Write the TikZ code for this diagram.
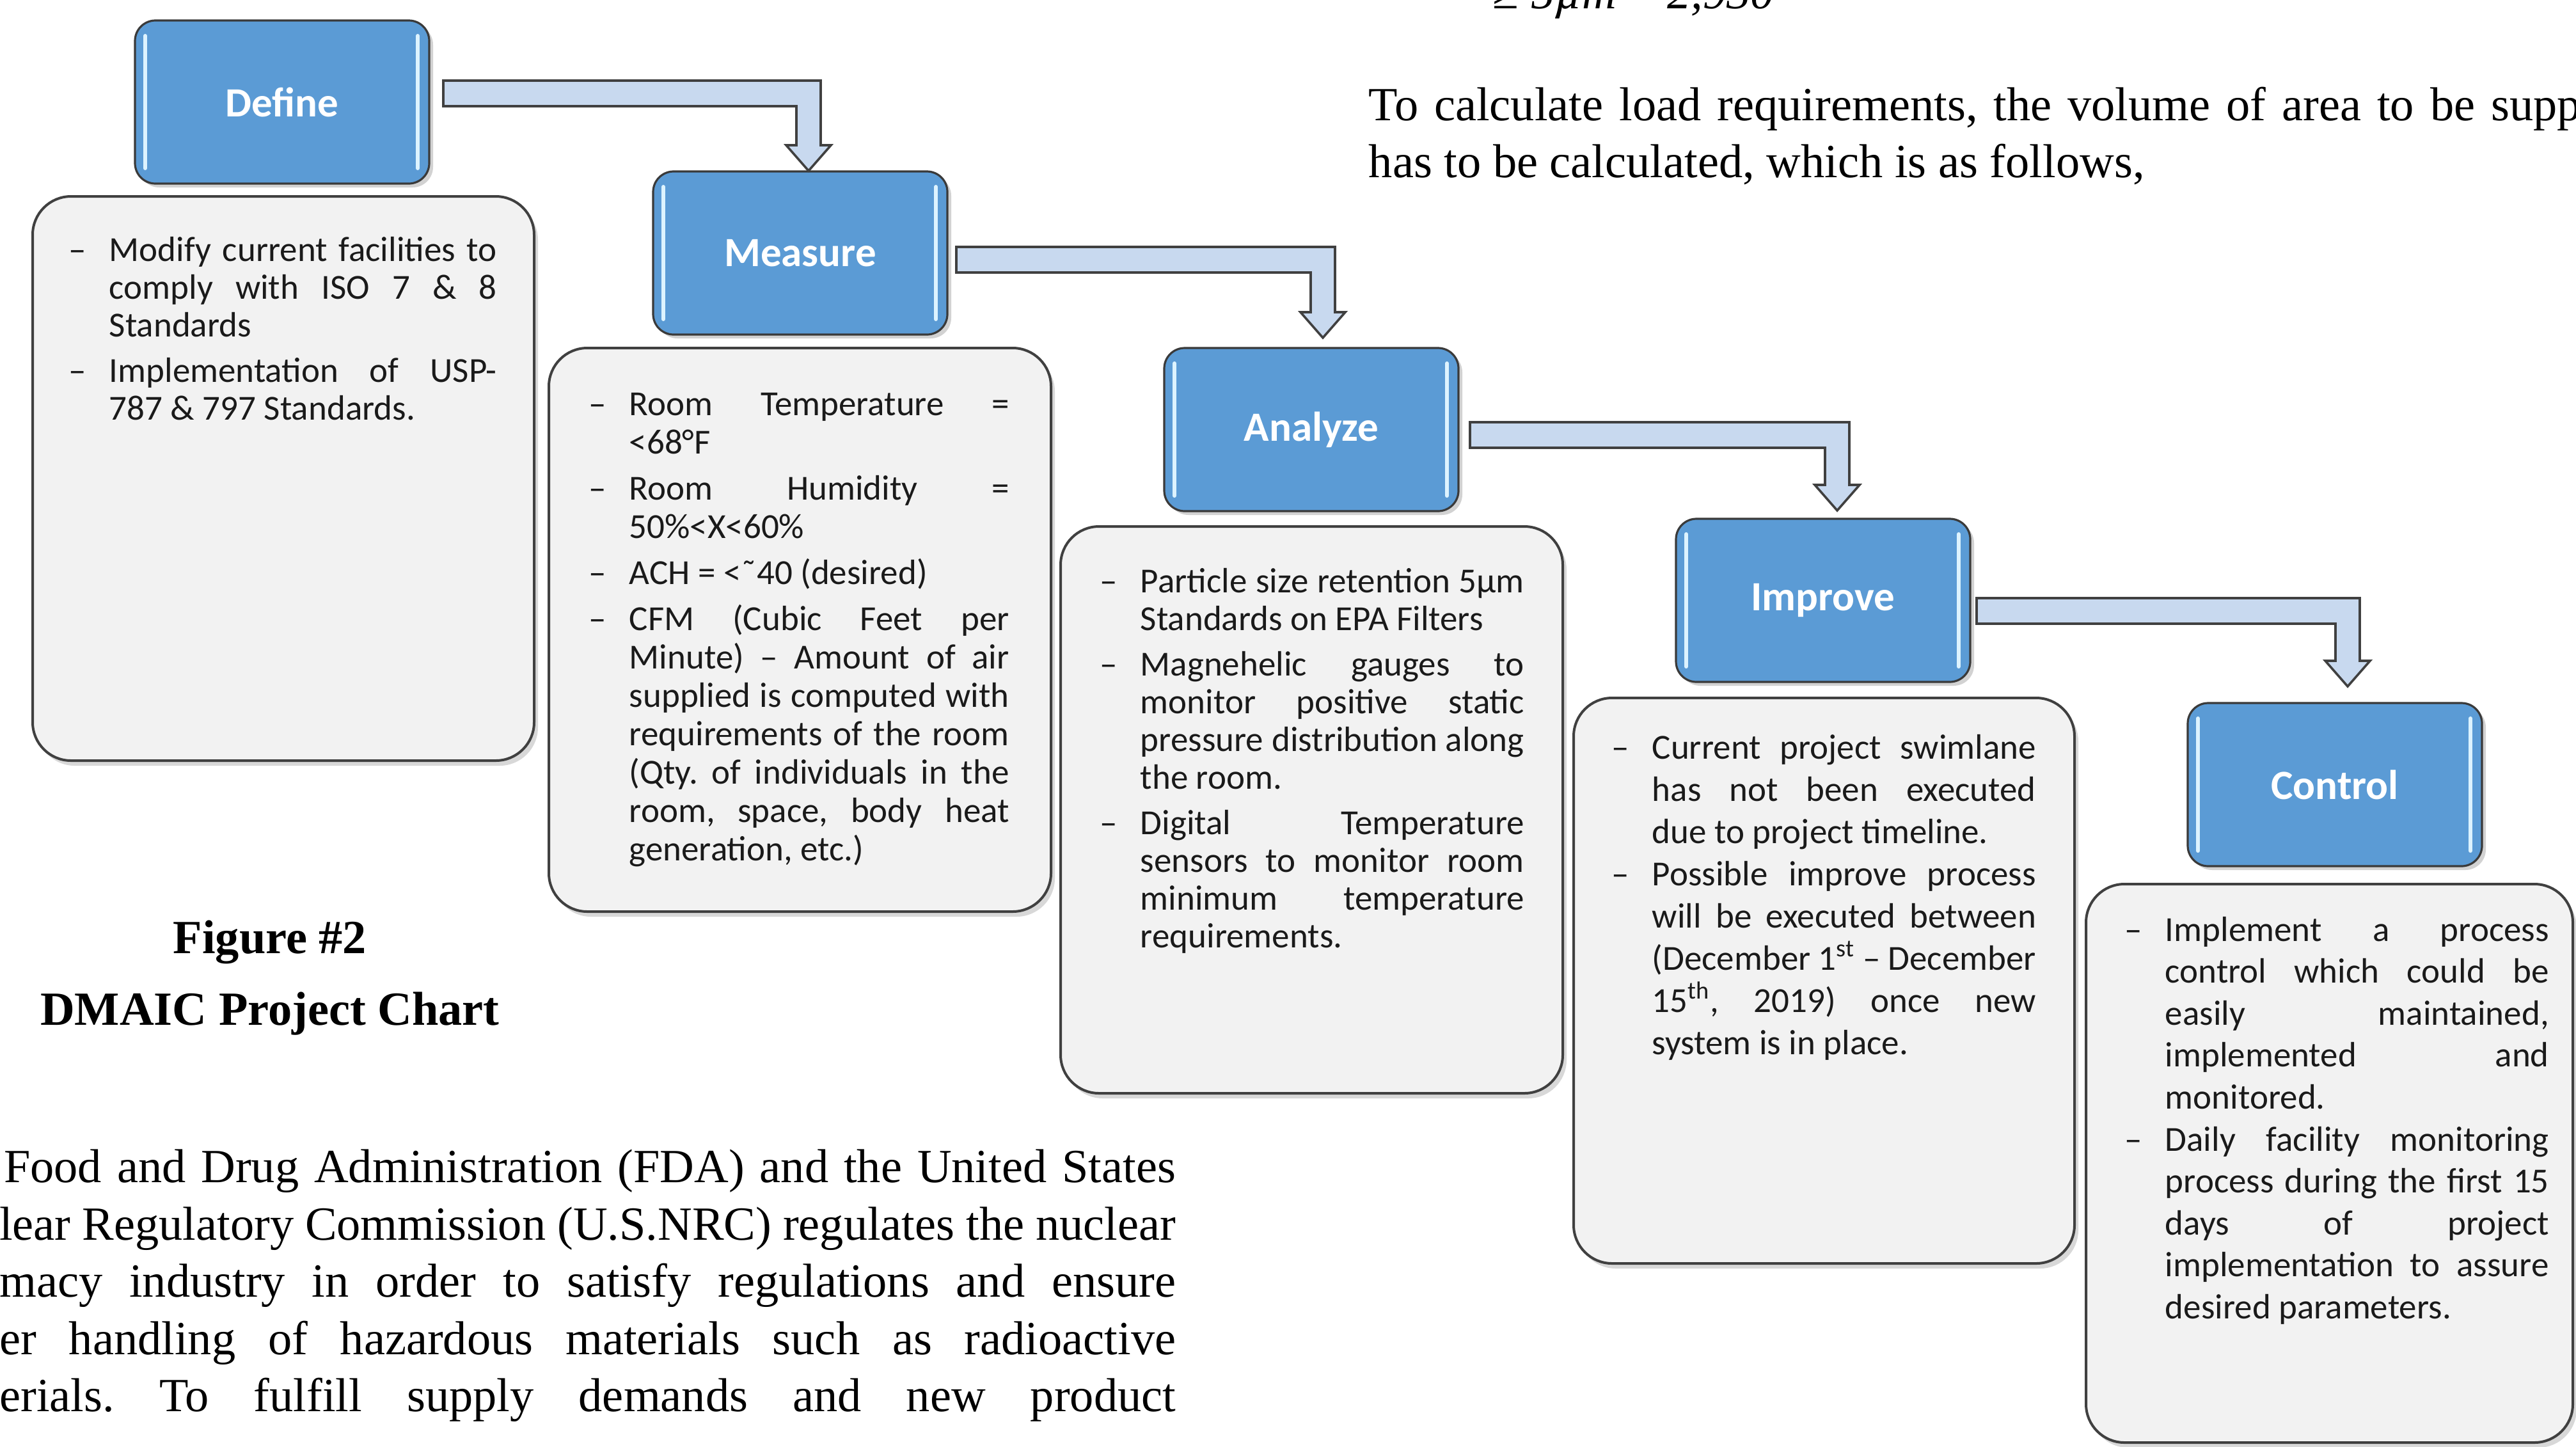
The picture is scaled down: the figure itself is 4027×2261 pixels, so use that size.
\documentclass[tikz,border=0pt]{standalone}
\usepackage{fontspec}
\setmainfont{Liberation Serif}
\newfontfamily\boxfont{Carlito}
\usetikzlibrary{calc,shadows}
\definecolor{bluefill}{HTML}{5B9BD5}
\definecolor{blueedge}{HTML}{3A3A3A}
\definecolor{bandfill}{HTML}{C8D9EF}
\definecolor{graybox}{HTML}{F2F2F2}
\definecolor{grayedge}{HTML}{404040}
\definecolor{glowcol}{HTML}{DDF3FF}
\definecolor{bodytext}{HTML}{1A1A1A}
\frenchspacing
\newcommand\rs{\spaceskip=0pt\xspaceskip=0pt\relax}
\newcommand\jl[1]{\makebox[\hsize][s]{\rs#1}}
\newcommand\dsh{\leavevmode\llap{\textendash\hspace{9pt}}}
% band arrow: #1 from, #2 to, #3 y offset of band top below from.north east, #4 #5 tip offset from to.north, #6 start x gap
\newcommand\bandarrow[6]{%
  \coordinate (#1#2a) at ($(#1.north east)+(#6,#3)$);
  \coordinate (#1#2b) at ($(#1.north east)+(#6,#3+40)$);
  \coordinate (#1#2t) at ($(#2.north)+(#4,#5)$);
  \coordinate (#1#2o) at ($(#1#2t)+(19,0)$);
  \coordinate (#1#2i) at ($(#1#2t)+(-19,0)$);
  \path[band] (#1#2a) -- (#1#2o |- #1#2a) -- ($(#1#2t)+(19,-40)$) -- ($(#1#2t)+(35,-40)$)
    -- (#1#2t) -- ($(#1#2t)+(-35,-40)$) -- ($(#1#2t)+(-19,-40)$) -- (#1#2i |- #1#2b) -- (#1#2b) -- cycle;
}
\newcommand\glow[1]{%
  \draw[glowline] ($(#1.north west)+(16,24)$) -- ($(#1.south west)+(16,-24)$);
  \draw[glowline] ($(#1.north east)+(-18,24)$) -- ($(#1.south east)+(-18,-24)$);
}
\tikzset{
  stage/.style={draw=blueedge, line width=0.8pt, fill=bluefill, rounded corners=8pt,
    minimum width=115pt, minimum height=63.75pt, anchor=north west, inner sep=0pt, outer sep=0pt,
    text=white, font=\boxfont\bfseries\fontsize{16.25pt}{19pt}\selectfont,
    drop shadow={opacity=0.35, shadow xshift=1.5pt, shadow yshift=-1.5pt}},
  infobox/.style={draw=grayedge, line width=1pt, fill=graybox, rounded corners=15pt,
    anchor=north west, inner sep=0pt, outer sep=0pt,
    drop shadow={opacity=0.3, shadow xshift=1.5pt, shadow yshift=-2pt}},
  infotext/.style={anchor=base west, inner sep=0pt, align=left, text=bodytext,
    font=\boxfont\fontsize{13.75pt}{#1}\selectfont},
  band/.style={draw=grayedge, line width=0.9pt, fill=bandfill, line join=miter},
  glowline/.style={draw=glowcol, line width=1.5pt, line cap=round},
  serif/.style={inner sep=0pt, font=\fontsize{18.6pt}{22pt}\selectfont},
  serifbold/.style={inner sep=0pt, font=\bfseries\fontsize{18.6pt}{22pt}\selectfont},
}
\begin{document}
\begin{tikzpicture}[x=0.25pt, y=-0.25pt]
\useasboundingbox (0,0) rectangle (4027,2261);
\clip (0,0) rectangle (4027,2261);
\fill[white] (0,0) rectangle (4027,2261);

% info boxes
\node[infobox, minimum width=196pt, minimum height=220.5pt] (definebox) at (51,307) {};
\node[infobox, minimum width=196.25pt, minimum height=220.25pt] (measurebox) at (858,544) {};
\node[infobox, minimum width=196.25pt, minimum height=221.5pt] (analyzebox) at (1658,823) {};
\node[infobox, minimum width=195.75pt, minimum height=221pt] (improvebox) at (2460,1091) {};
\node[infobox, minimum width=190.25pt, minimum height=218.25pt] (controlbox) at (3261,1382) {};

% stage boxes
\node[stage] (define) at (211,32) {Define};
\node[stage] (measure) at (1021,268) {Measure};
\node[stage] (analyze) at (1820,544) {Analyze};
\node[stage] (improve) at (2620,811) {Improve};
\node[stage] (control) at (3420,1099) {Control};
\glow{define}\glow{measure}\glow{analyze}\glow{improve}\glow{control}

% band arrows
\bandarrow{define}{measure}{94}{13}{-1}{22}
\bandarrow{measure}{analyze}{118}{18}{-16}{14}
\bandarrow{analyze}{improve}{116}{22}{-13}{18}
\bandarrow{improve}{control}{124}{20}{-26}{10}

% texts in boxes
\node[infotext=14.75pt, text width=151.5pt] (definetext) at (170,408) {\rs
\dsh\jl{Modify current facilities to}\\
\jl{comply with ISO 7 \& 8}\\
Standards\\[3pt]
\dsh\jl{Implementation of USP-}\\
787 \& 797 Standards.};

\node[infotext=15pt, text width=148.5pt] (measuretext) at (983,649) {\rs
\dsh\jl{Room Temperature =}\\
<68°F\\[3pt]
\dsh\jl{Room Humidity =}\\
50\%<X<60\%\\[3pt]
\dsh ACH = <\symbol{"02DC}40 (desired)\\[3pt]
\dsh\jl{CFM (Cubic Feet per}\\
\jl{Minute) \textendash{} Amount of air}\\
\jl{supplied is computed with}\\
\jl{requirements of the room}\\
\jl{(Qty. of individuals in the}\\
\jl{room, space, body heat}\\
generation, etc.)};

\node[infotext=14.75pt, text width=150pt] (analyzetext) at (1782,926) {\rs
\dsh\jl{Particle size retention 5µm}\\
Standards on EPA Filters\\[3pt]
\dsh\jl{Magnehelic gauges to}\\
\jl{monitor positive static}\\
\jl{pressure distribution along}\\
the room.\\[3pt]
\dsh\jl{Digital Temperature}\\
\jl{sensors to monitor room}\\
\jl{minimum temperature}\\
requirements.};

\node[infotext=16.5pt, text width=150pt] (improvetext) at (2582,1186) {\rs
\dsh\jl{Current project swimlane}\\
\jl{has not been executed}\\
due to project timeline.\\
\dsh\jl{Possible improve process}\\
\jl{will be executed between}\\
\jl{(December 1\textsuperscript{st} \textendash{} December}\\
\jl{15\textsuperscript{th}, 2019) once new}\\
system is in place.};

\node[infotext=16.4pt, text width=150pt] (controltext) at (3384,1471) {\rs
\dsh\jl{Implement a process}\\
\jl{control which could be}\\
\jl{easily maintained,}\\
\jl{implemented and}\\
monitored.\\
\dsh\jl{Daily facility monitoring}\\
\jl{process during the first 15}\\
\jl{days of project}\\
\jl{implementation to assure}\\
desired parameters.};

% surrounding document text
\node[serif, anchor=base west] (eqfrag) at (2333,13) {≥ \textit{5µm} = \textit{2,930}};
\node[serif, anchor=base west] (parA1) at (2139,188) {\spaceskip=0.335em\relax To calculate load requirements, the volume of area to be supported};
\node[serif, anchor=base west] (parA2) at (2139,277) {has to be calculated, which is as follows,};

\node[serifbold, anchor=base] (figlabel) at (422,1490) {Figure \#2};
\node[serifbold, anchor=base] (figtitle) at (422,1602) {DMAIC Project Chart};

\node[serif, anchor=base east] (parB1) at (1839,1848) {\makebox[458pt][s]{Food and Drug Administration (FDA) and the United States}};
\node[serif, anchor=base east] (parB2) at (1839,1938) {\makebox[459.75pt][s]{lear Regulatory Commission (U.S.NRC) regulates the nuclear}};
\node[serif, anchor=base east] (parB3) at (1839,2027) {\makebox[459.75pt][s]{macy industry in order to satisfy regulations and ensure}};
\node[serif, anchor=base east] (parB4) at (1839,2117) {\makebox[459.75pt][s]{er handling of hazardous materials such as radioactive}};
\node[serif, anchor=base east] (parB5) at (1839,2206) {\makebox[459.75pt][s]{erials. To fulfill supply demands and new product}};
\end{tikzpicture}
\end{document}
